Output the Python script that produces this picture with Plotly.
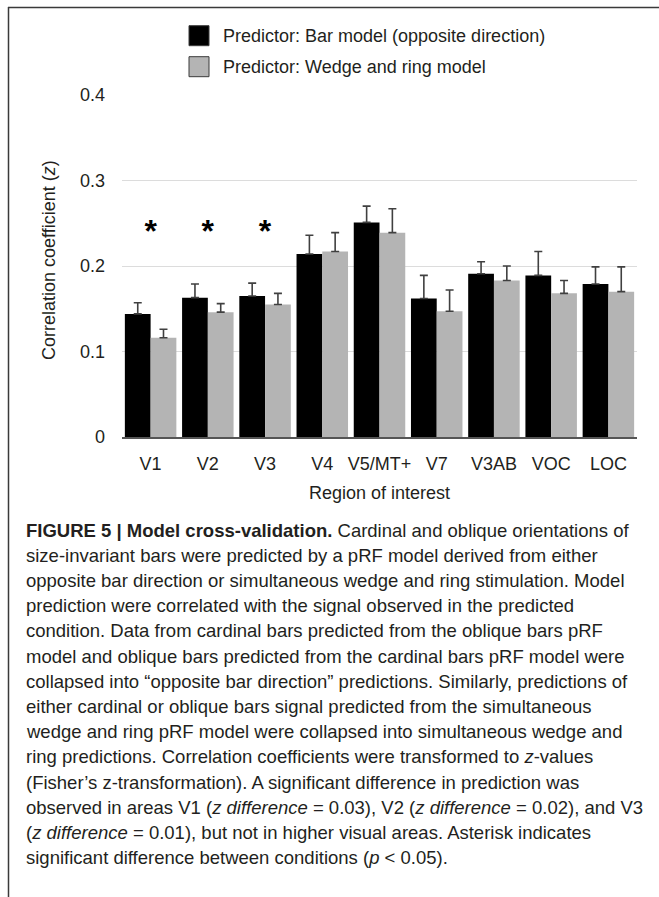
import plotly.graph_objects as go

# ---------------- data ----------------
regions = ["V1", "V2", "V3", "V4", "V5/MT+", "V7", "V3AB", "VOC", "LOC"]
bar_model = [0.144, 0.163, 0.165, 0.214, 0.251, 0.162, 0.191, 0.189, 0.179]
bar_model_err = [0.013, 0.016, 0.015, 0.022, 0.019, 0.027, 0.014, 0.028, 0.020]
wedge_ring = [0.116, 0.146, 0.155, 0.217, 0.239, 0.147, 0.183, 0.168, 0.170]
wedge_ring_err = [0.010, 0.010, 0.013, 0.022, 0.028, 0.025, 0.017, 0.015, 0.029]
series_names = ["Predictor: Bar model (opposite direction)",
                "Predictor: Wedge and ring model"]
significant = ["V1", "V2", "V3"]
star_level = 0.238
y_ticks = [0, 0.1, 0.2, 0.3, 0.4]
y_tick_labels = ["0", "0.1", "0.2", "0.3", "0.4"]

caption_lines = [
    "<b>FIGURE 5 | Model cross-validation.</b> Cardinal and oblique orientations of",
    "size-invariant bars were predicted by a pRF model derived from either",
    "opposite bar direction or simultaneous wedge and ring stimulation. Model",
    "prediction were correlated with the signal observed in the predicted",
    "condition. Data from cardinal bars predicted from the oblique bars pRF",
    "model and oblique bars predicted from the cardinal bars pRF model were",
    "collapsed into \u201copposite bar direction\u201d predictions. Similarly, predictions of",
    "either cardinal or oblique bars signal predicted from the simultaneous",
    "wedge and ring pRF model were collapsed into simultaneous wedge and",
    "ring predictions. Correlation coefficients were transformed to <i>z</i>-values",
    "(Fisher\u2019s z-transformation). A significant difference in prediction was",
    "observed in areas V1 (<i>z difference</i> = 0.03), V2 (<i>z difference</i> = 0.02), and V3",
    "(<i>z difference</i> = 0.01), but not in higher visual areas. Asterisk indicates",
    "significant difference between conditions (<i>p</i> &lt; 0.05).",
]

# ---------------- layout geometry (pixels) ----------------
W, H = 659, 897
PL, PR, PT, PB = 122, 637, 95, 437  # plot area edges
FONT = "Liberation Sans, Arial, Helvetica, sans-serif"
TXT = "#231f20"
BLACK, GRAY = "#000000", "#b4b4b4"


def px_x(x):
    return (x - PL) / (PR - PL)


def px_y(y):
    return (PB - y) / (PB - PT)


fig = go.Figure()
fig.add_trace(go.Bar(
    x=regions, y=bar_model, name=series_names[0], showlegend=False,
    marker=dict(color=BLACK, line=dict(width=0)),
    error_y=dict(type="data", symmetric=False, array=bar_model_err,
                 arrayminus=[0] * len(regions), color="#404040", thickness=1.6, width=4),
))
fig.add_trace(go.Bar(
    x=regions, y=wedge_ring, name=series_names[1], showlegend=False,
    marker=dict(color=GRAY, line=dict(width=0)),
    error_y=dict(type="data", symmetric=False, array=wedge_ring_err,
                 arrayminus=[0] * len(regions), color="#404040", thickness=1.6, width=4),
))
fig.add_trace(go.Scatter(
    x=significant, y=[star_level] * len(significant), mode="text",
    text=["*"] * len(significant), showlegend=False, hoverinfo="skip",
    textfont=dict(family="Liberation Sans, Arial", size=32, color="#000000",
                  weight="bold"),
))

annotations = []
shapes = []

# legend (drawn as squares + labels to match the reference's large swatches)
for i, (name, col) in enumerate(zip(series_names, [BLACK, GRAY])):
    yc = 35.7 + i * 31
    shapes.append(dict(type="rect", xref="paper", yref="paper",
                       x0=px_x(189), x1=px_x(209), y0=px_y(yc - 10), y1=px_y(yc + 10),
                       fillcolor=col, line=dict(color="#3a3a3a", width=1)))
    annotations.append(dict(text=name, xref="paper", yref="paper",
                            x=px_x(221), y=px_y(yc), xanchor="left", yanchor="middle",
                            showarrow=False, font=dict(family=FONT, size=18, color=TXT)))

for i, line in enumerate(caption_lines):
    annotations.append(dict(
        text=line, xref="paper", yref="paper", x=px_x(24), y=px_y(530 + i * 25.2),
        xanchor="left", yanchor="middle", showarrow=False, align="left",
        font=dict(family=FONT, size=18.5, color=TXT),
    ))
annotations.append(dict(
    text="Correlation coefficient (<i>z</i>)", xref="paper", yref="paper",
    x=px_x(49), y=px_y(260), textangle=-90, showarrow=False,
    xanchor="center", yanchor="middle", font=dict(family=FONT, size=18, color=TXT),
))
annotations.append(dict(
    text="Region of interest", xref="paper", yref="paper",
    x=px_x(379), y=px_y(493), showarrow=False,
    xanchor="center", yanchor="middle", font=dict(family=FONT, size=18, color=TXT),
))

# page frame (top and left rules)
shapes += [
    dict(type="line", xref="paper", yref="paper", x0=px_x(8), x1=px_x(W + 5),
         y0=px_y(7.5), y1=px_y(7.5), line=dict(color="#3a3a3a", width=1.5)),
    dict(type="line", xref="paper", yref="paper", x0=px_x(8.5), x1=px_x(8.5),
         y0=px_y(7), y1=px_y(H + 5), line=dict(color="#3a3a3a", width=1.5)),
]

fig.update_layout(
    width=W, height=H,
    margin=dict(l=PL, r=W - PR, t=PT, b=H - PB, pad=0),
    paper_bgcolor="white", plot_bgcolor="white",
    barmode="group", bargap=0.1, bargroupgap=0,
    font=dict(family=FONT, size=18, color=TXT),
    showlegend=False,
    xaxis=dict(
        range=[-0.5, 8.5], showgrid=False, showline=True, linecolor="#555555",
        linewidth=1.5, ticks="", tickfont=dict(size=18, color=TXT),
        ticklabelstandoff=10, zeroline=False,
    ),
    yaxis=dict(
        range=[0, 0.4], tickvals=y_ticks, ticktext=y_tick_labels,
        showgrid=True, gridcolor="#dcdcdc", gridwidth=1, zeroline=False,
        showline=False, ticks="", tickfont=dict(size=18, color=TXT),
        ticklabelstandoff=16,
    ),
    annotations=annotations,
    shapes=shapes,
)

fig.write_html("out.html", config={"displayModeBar": False},
               post_script="document.body.style.margin='0px';")
